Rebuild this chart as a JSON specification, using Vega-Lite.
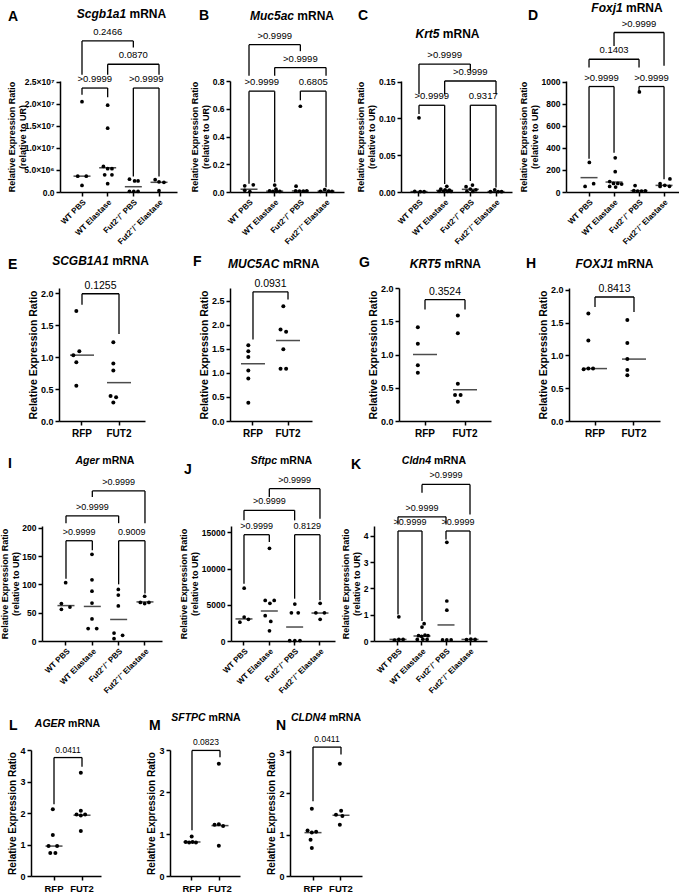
{
"$schema":"https://vega.github.io/schema/vega-lite/v6.json",
"padding":{"left":0,"top":1,"right":0,"bottom":0},
"spacing":0,
"config":{"font":"Liberation Sans","view":{"stroke":null},
"axis":{"grid":false,"domainColor":"black","domainWidth":1.5,"tickColor":"black","tickWidth":1.5,"tickSize":4,"labelColor":"black","labelFont":"Liberation Sans","labelFontWeight":"bold","titleColor":"black","titleFont":"Liberation Sans","titleFontWeight":"bold","labelOverlap":false,"labelPadding":2,"titlePadding":2},
"axisY":{"tickCount":20,"labelOverlap":false}},
"datasets":{
"pts":[
{"p":"A","g":"WT PBS","v":20500000,"s":0},{"p":"A","g":"WT PBS","v":3600000,"s":-1},{"p":"A","g":"WT PBS","v":3600000,"s":1},{"p":"A","g":"WT PBS","v":1500000,"s":0},
{"p":"A","g":"WT Elastase","v":19700000,"s":0},{"p":"A","g":"WT Elastase","v":14500000,"s":0},{"p":"A","g":"WT Elastase","v":5800000,"s":-1},{"p":"A","g":"WT Elastase","v":5300000,"s":0},{"p":"A","g":"WT Elastase","v":5300000,"s":1},{"p":"A","g":"WT Elastase","v":3900000,"s":-0.7},{"p":"A","g":"WT Elastase","v":3900000,"s":1},{"p":"A","g":"WT Elastase","v":1900000,"s":0},
{"p":"A","g":"Fut2⁻/⁻ PBS","v":2900000,"s":-0.9},{"p":"A","g":"Fut2⁻/⁻ PBS","v":2500000,"s":0.3},{"p":"A","g":"Fut2⁻/⁻ PBS","v":2500000,"s":1.1},{"p":"A","g":"Fut2⁻/⁻ PBS","v":150000,"s":-0.9},{"p":"A","g":"Fut2⁻/⁻ PBS","v":150000,"s":0.1},{"p":"A","g":"Fut2⁻/⁻ PBS","v":150000,"s":1.1},
{"p":"A","g":"Fut2⁻/⁻ Elastase","v":2800000,"s":-0.9},{"p":"A","g":"Fut2⁻/⁻ Elastase","v":2300000,"s":0},{"p":"A","g":"Fut2⁻/⁻ Elastase","v":2200000,"s":1.15},{"p":"A","g":"Fut2⁻/⁻ Elastase","v":300000,"s":0},
{"p":"B","g":"WT PBS","v":0.045,"s":-1},{"p":"B","g":"WT PBS","v":0.052,"s":1},{"p":"B","g":"WT PBS","v":0.012,"s":-1},{"p":"B","g":"WT PBS","v":0.003,"s":0.2},
{"p":"B","g":"WT Elastase","v":0.05,"s":0},{"p":"B","g":"WT Elastase","v":0.02,"s":0.3},{"p":"B","g":"WT Elastase","v":0.008,"s":-1.2},{"p":"B","g":"WT Elastase","v":0.005,"s":-0.4},{"p":"B","g":"WT Elastase","v":0.005,"s":0.4},{"p":"B","g":"WT Elastase","v":0.004,"s":1.2},
{"p":"B","g":"Fut2⁻/⁻ PBS","v":0.618,"s":0},{"p":"B","g":"Fut2⁻/⁻ PBS","v":0.042,"s":-1},{"p":"B","g":"Fut2⁻/⁻ PBS","v":0.008,"s":-1.1},{"p":"B","g":"Fut2⁻/⁻ PBS","v":0.006,"s":-0.2},{"p":"B","g":"Fut2⁻/⁻ PBS","v":0.007,"s":0.7},{"p":"B","g":"Fut2⁻/⁻ PBS","v":0.008,"s":1.5},
{"p":"B","g":"Fut2⁻/⁻ Elastase","v":0.018,"s":-0.3},{"p":"B","g":"Fut2⁻/⁻ Elastase","v":0.005,"s":-1.3},{"p":"B","g":"Fut2⁻/⁻ Elastase","v":0.006,"s":0.6},{"p":"B","g":"Fut2⁻/⁻ Elastase","v":0.005,"s":1.4},
{"p":"C","g":"WT PBS","v":0.101,"s":0},{"p":"C","g":"WT PBS","v":0.0008,"s":-1},{"p":"C","g":"WT PBS","v":0.0006,"s":0.3},{"p":"C","g":"WT PBS","v":0.0005,"s":1.2},
{"p":"C","g":"WT Elastase","v":0.0077,"s":0.5},{"p":"C","g":"WT Elastase","v":0.004,"s":-0.9},{"p":"C","g":"WT Elastase","v":0.003,"s":0.1},{"p":"C","g":"WT Elastase","v":0.0025,"s":1.1},{"p":"C","g":"WT Elastase","v":0.001,"s":-1.3},{"p":"C","g":"WT Elastase","v":0.001,"s":-0.3},{"p":"C","g":"WT Elastase","v":0.001,"s":0.7},{"p":"C","g":"WT Elastase","v":0.0008,"s":1.5},
{"p":"C","g":"Fut2⁻/⁻ PBS","v":0.0095,"s":0.5},{"p":"C","g":"Fut2⁻/⁻ PBS","v":0.0073,"s":-1},{"p":"C","g":"Fut2⁻/⁻ PBS","v":0.004,"s":0},{"p":"C","g":"Fut2⁻/⁻ PBS","v":0.003,"s":1.3},{"p":"C","g":"Fut2⁻/⁻ PBS","v":0.001,"s":-0.8},{"p":"C","g":"Fut2⁻/⁻ PBS","v":0.0008,"s":0.6},
{"p":"C","g":"Fut2⁻/⁻ Elastase","v":0.003,"s":-0.3},{"p":"C","g":"Fut2⁻/⁻ Elastase","v":0.0005,"s":-1.3},{"p":"C","g":"Fut2⁻/⁻ Elastase","v":0.0006,"s":0.5},{"p":"C","g":"Fut2⁻/⁻ Elastase","v":0.0005,"s":1.3},
{"p":"D","g":"WT PBS","v":268,"s":0},{"p":"D","g":"WT PBS","v":75,"s":1},{"p":"D","g":"WT PBS","v":50,"s":-1},
{"p":"D","g":"WT Elastase","v":310,"s":0.2},{"p":"D","g":"WT Elastase","v":184,"s":0.2},{"p":"D","g":"WT Elastase","v":95,"s":-1.1},{"p":"D","g":"WT Elastase","v":78,"s":-0.2},{"p":"D","g":"WT Elastase","v":78,"s":0.8},{"p":"D","g":"WT Elastase","v":72,"s":1.7},{"p":"D","g":"WT Elastase","v":50,"s":-1.1},{"p":"D","g":"WT Elastase","v":45,"s":0.3},
{"p":"D","g":"Fut2⁻/⁻ PBS","v":906,"s":0},{"p":"D","g":"Fut2⁻/⁻ PBS","v":58,"s":-1},{"p":"D","g":"Fut2⁻/⁻ PBS","v":12,"s":-1.3},{"p":"D","g":"Fut2⁻/⁻ PBS","v":8,"s":-0.4},{"p":"D","g":"Fut2⁻/⁻ PBS","v":8,"s":0.5},{"p":"D","g":"Fut2⁻/⁻ PBS","v":10,"s":1.4},
{"p":"D","g":"Fut2⁻/⁻ Elastase","v":118,"s":1.3},{"p":"D","g":"Fut2⁻/⁻ Elastase","v":75,"s":-1},{"p":"D","g":"Fut2⁻/⁻ Elastase","v":60,"s":0.1},{"p":"D","g":"Fut2⁻/⁻ Elastase","v":50,"s":-1},{"p":"D","g":"Fut2⁻/⁻ Elastase","v":52,"s":1.2},
{"p":"E","g":"RFP","v":1.72,"s":0},{"p":"E","g":"RFP","v":1.09,"s":0.7},{"p":"E","g":"RFP","v":1.03,"s":-0.7},{"p":"E","g":"RFP","v":0.92,"s":0},{"p":"E","g":"RFP","v":0.55,"s":0},
{"p":"E","g":"FUT2","v":1.23,"s":0},{"p":"E","g":"FUT2","v":0.9,"s":0},{"p":"E","g":"FUT2","v":0.79,"s":0},{"p":"E","g":"FUT2","v":0.39,"s":-0.65},{"p":"E","g":"FUT2","v":0.37,"s":0.65},{"p":"E","g":"FUT2","v":0.29,"s":0},
{"p":"F","g":"RFP","v":1.57,"s":0},{"p":"F","g":"RFP","v":1.45,"s":0},{"p":"F","g":"RFP","v":1.33,"s":0},{"p":"F","g":"RFP","v":1.05,"s":0},{"p":"F","g":"RFP","v":0.88,"s":0},{"p":"F","g":"RFP","v":0.38,"s":0},
{"p":"F","g":"FUT2","v":2.38,"s":0},{"p":"F","g":"FUT2","v":1.9,"s":-0.65},{"p":"F","g":"FUT2","v":1.85,"s":0.65},{"p":"F","g":"FUT2","v":1.49,"s":0},{"p":"F","g":"FUT2","v":1.085,"s":-0.65},{"p":"F","g":"FUT2","v":1.085,"s":0.65},
{"p":"G","g":"RFP","v":1.41,"s":0},{"p":"G","g":"RFP","v":1.16,"s":0},{"p":"G","g":"RFP","v":0.84,"s":0},{"p":"G","g":"RFP","v":0.725,"s":0},
{"p":"G","g":"FUT2","v":1.585,"s":0},{"p":"G","g":"FUT2","v":1.32,"s":0},{"p":"G","g":"FUT2","v":0.56,"s":0},{"p":"G","g":"FUT2","v":0.39,"s":-0.65},{"p":"G","g":"FUT2","v":0.39,"s":0.65},{"p":"G","g":"FUT2","v":0.29,"s":0},
{"p":"H","g":"RFP","v":1.64,"s":0},{"p":"H","g":"RFP","v":1.23,"s":0},{"p":"H","g":"RFP","v":0.79,"s":-1.1},{"p":"H","g":"RFP","v":0.8,"s":0},{"p":"H","g":"RFP","v":0.8,"s":1.1},
{"p":"H","g":"FUT2","v":1.54,"s":0},{"p":"H","g":"FUT2","v":1.19,"s":0},{"p":"H","g":"FUT2","v":0.945,"s":0},{"p":"H","g":"FUT2","v":0.78,"s":0},{"p":"H","g":"FUT2","v":0.7,"s":0},
{"p":"I","g":"WT PBS","v":103,"s":0},{"p":"I","g":"WT PBS","v":66,"s":-1},{"p":"I","g":"WT PBS","v":60,"s":1},{"p":"I","g":"WT PBS","v":56,"s":-1},
{"p":"I","g":"WT Elastase","v":153,"s":0},{"p":"I","g":"WT Elastase","v":108,"s":0},{"p":"I","g":"WT Elastase","v":88,"s":0},{"p":"I","g":"WT Elastase","v":67,"s":0},{"p":"I","g":"WT Elastase","v":39,"s":0},{"p":"I","g":"WT Elastase","v":22,"s":-0.9},{"p":"I","g":"WT Elastase","v":22,"s":1.1},
{"p":"I","g":"Fut2⁻/⁻ PBS","v":91,"s":0},{"p":"I","g":"Fut2⁻/⁻ PBS","v":81,"s":0},{"p":"I","g":"Fut2⁻/⁻ PBS","v":62,"s":0},{"p":"I","g":"Fut2⁻/⁻ PBS","v":14,"s":-1},{"p":"I","g":"Fut2⁻/⁻ PBS","v":10,"s":1},{"p":"I","g":"Fut2⁻/⁻ PBS","v":4,"s":-1},
{"p":"I","g":"Fut2⁻/⁻ Elastase","v":79,"s":0},{"p":"I","g":"Fut2⁻/⁻ Elastase","v":68,"s":-1},{"p":"I","g":"Fut2⁻/⁻ Elastase","v":66,"s":0},{"p":"I","g":"Fut2⁻/⁻ Elastase","v":68,"s":1},
{"p":"J","g":"WT PBS","v":7300,"s":0},{"p":"J","g":"WT PBS","v":3300,"s":0},{"p":"J","g":"WT PBS","v":3000,"s":1},{"p":"J","g":"WT PBS","v":2600,"s":-1},
{"p":"J","g":"WT Elastase","v":12800,"s":0},{"p":"J","g":"WT Elastase","v":5600,"s":-1},{"p":"J","g":"WT Elastase","v":5200,"s":0.1},{"p":"J","g":"WT Elastase","v":5600,"s":1.1},{"p":"J","g":"WT Elastase","v":3500,"s":-1},{"p":"J","g":"WT Elastase","v":2700,"s":0.3},{"p":"J","g":"WT Elastase","v":1400,"s":0},
{"p":"J","g":"Fut2⁻/⁻ PBS","v":5100,"s":0},{"p":"J","g":"Fut2⁻/⁻ PBS","v":3900,"s":-0.8},{"p":"J","g":"Fut2⁻/⁻ PBS","v":3900,"s":0.8},{"p":"J","g":"Fut2⁻/⁻ PBS","v":50,"s":-1.2},{"p":"J","g":"Fut2⁻/⁻ PBS","v":40,"s":0},{"p":"J","g":"Fut2⁻/⁻ PBS","v":60,"s":1.2},
{"p":"J","g":"Fut2⁻/⁻ Elastase","v":5200,"s":0},{"p":"J","g":"Fut2⁻/⁻ Elastase","v":3900,"s":-1},{"p":"J","g":"Fut2⁻/⁻ Elastase","v":3900,"s":1},{"p":"J","g":"Fut2⁻/⁻ Elastase","v":3000,"s":0},
{"p":"K","g":"WT PBS","v":0.92,"s":0},{"p":"K","g":"WT PBS","v":0.03,"s":-1},{"p":"K","g":"WT PBS","v":0.06,"s":0},{"p":"K","g":"WT PBS","v":0.06,"s":1},
{"p":"K","g":"WT Elastase","v":0.66,"s":0.3},{"p":"K","g":"WT Elastase","v":0.53,"s":-0.2},{"p":"K","g":"WT Elastase","v":0.2,"s":-1},{"p":"K","g":"WT Elastase","v":0.18,"s":-0.3},{"p":"K","g":"WT Elastase","v":0.22,"s":0.5},{"p":"K","g":"WT Elastase","v":0.2,"s":1.2},{"p":"K","g":"WT Elastase","v":0.06,"s":-1.3},{"p":"K","g":"WT Elastase","v":0.07,"s":0},{"p":"K","g":"WT Elastase","v":0.06,"s":1},
{"p":"K","g":"Fut2⁻/⁻ PBS","v":3.75,"s":0},{"p":"K","g":"Fut2⁻/⁻ PBS","v":1.52,"s":0},{"p":"K","g":"Fut2⁻/⁻ PBS","v":1.17,"s":0},{"p":"K","g":"Fut2⁻/⁻ PBS","v":0.04,"s":-1},{"p":"K","g":"Fut2⁻/⁻ PBS","v":0.04,"s":0},{"p":"K","g":"Fut2⁻/⁻ PBS","v":0.04,"s":1},
{"p":"K","g":"Fut2⁻/⁻ Elastase","v":0.05,"s":-1},{"p":"K","g":"Fut2⁻/⁻ Elastase","v":0.07,"s":0},{"p":"K","g":"Fut2⁻/⁻ Elastase","v":0.06,"s":1},
{"p":"L","g":"RFP","v":2.12,"s":0},{"p":"L","g":"RFP","v":1.3,"s":0},{"p":"L","g":"RFP","v":0.95,"s":-1},{"p":"L","g":"RFP","v":0.95,"s":1},{"p":"L","g":"RFP","v":0.73,"s":-0.6},{"p":"L","g":"RFP","v":0.73,"s":0.6},
{"p":"L","g":"FUT2","v":3.28,"s":0},{"p":"L","g":"FUT2","v":2.07,"s":0},{"p":"L","g":"FUT2","v":1.95,"s":-1},{"p":"L","g":"FUT2","v":1.92,"s":0},{"p":"L","g":"FUT2","v":1.95,"s":1},{"p":"L","g":"FUT2","v":1.43,"s":0},
{"p":"M","g":"RFP","v":0.94,"s":0.2},{"p":"M","g":"RFP","v":0.81,"s":-1.2},{"p":"M","g":"RFP","v":0.8,"s":-0.4},{"p":"M","g":"RFP","v":0.81,"s":0.4},{"p":"M","g":"RFP","v":0.8,"s":1.2},
{"p":"M","g":"FUT2","v":2.67,"s":0},{"p":"M","g":"FUT2","v":1.22,"s":-1},{"p":"M","g":"FUT2","v":1.23,"s":0},{"p":"M","g":"FUT2","v":1.19,"s":1},{"p":"M","g":"FUT2","v":0.72,"s":0},
{"p":"N","g":"RFP","v":1.63,"s":0},{"p":"N","g":"RFP","v":1.1,"s":-1},{"p":"N","g":"RFP","v":1.05,"s":0},{"p":"N","g":"RFP","v":1.07,"s":1},{"p":"N","g":"RFP","v":0.88,"s":-0.3},{"p":"N","g":"RFP","v":0.68,"s":0},
{"p":"N","g":"FUT2","v":2.72,"s":0},{"p":"N","g":"FUT2","v":1.58,"s":0.3},{"p":"N","g":"FUT2","v":1.48,"s":-0.9},{"p":"N","g":"FUT2","v":1.45,"s":0.6},{"p":"N","g":"FUT2","v":1.24,"s":0}
],
"med":[
{"p":"A","g":"WT PBS","v":3600000},{"p":"A","g":"WT Elastase","v":5500000},{"p":"A","g":"Fut2⁻/⁻ PBS","v":1200000},{"p":"A","g":"Fut2⁻/⁻ Elastase","v":2200000},
{"p":"B","g":"WT PBS","v":0.02},{"p":"B","g":"WT Elastase","v":0.006},{"p":"B","g":"Fut2⁻/⁻ PBS","v":0.008},{"p":"B","g":"Fut2⁻/⁻ Elastase","v":0.006},
{"p":"C","g":"WT PBS","v":0.0006},{"p":"C","g":"WT Elastase","v":0.002},{"p":"C","g":"Fut2⁻/⁻ PBS","v":0.0036},{"p":"C","g":"Fut2⁻/⁻ Elastase","v":0.0006},
{"p":"D","g":"WT PBS","v":130},{"p":"D","g":"WT Elastase","v":90},{"p":"D","g":"Fut2⁻/⁻ PBS","v":12},{"p":"D","g":"Fut2⁻/⁻ Elastase","v":60},
{"p":"E","g":"RFP","v":1.03},{"p":"E","g":"FUT2","v":0.6},
{"p":"F","g":"RFP","v":1.19},{"p":"F","g":"FUT2","v":1.67},
{"p":"G","g":"RFP","v":1.0},{"p":"G","g":"FUT2","v":0.47},
{"p":"H","g":"RFP","v":0.8},{"p":"H","g":"FUT2","v":0.945},
{"p":"I","g":"WT PBS","v":62.5},{"p":"I","g":"WT Elastase","v":61},{"p":"I","g":"Fut2⁻/⁻ PBS","v":38},{"p":"I","g":"Fut2⁻/⁻ Elastase","v":69},
{"p":"J","g":"WT PBS","v":3050},{"p":"J","g":"WT Elastase","v":4140},{"p":"J","g":"Fut2⁻/⁻ PBS","v":1930},{"p":"J","g":"Fut2⁻/⁻ Elastase","v":3860},
{"p":"K","g":"WT PBS","v":0.06},{"p":"K","g":"WT Elastase","v":0.19},{"p":"K","g":"Fut2⁻/⁻ PBS","v":0.61},{"p":"K","g":"Fut2⁻/⁻ Elastase","v":0.06},
{"p":"L","g":"RFP","v":0.95},{"p":"L","g":"FUT2","v":1.93},
{"p":"M","g":"RFP","v":0.81},{"p":"M","g":"FUT2","v":1.2},
{"p":"N","g":"RFP","v":1.05},{"p":"N","g":"FUT2","v":1.47}
],
"seg":[
{"p":"A","g":"WT PBS","g2":"Fut2⁻/⁻ PBS","v":34300000,"v2":34300000},{"p":"A","g":"WT PBS","g2":"WT PBS","v":26600000,"v2":34300000},{"p":"A","g":"Fut2⁻/⁻ PBS","g2":"Fut2⁻/⁻ PBS","v":32800000,"v2":34300000},
{"p":"A","g":"WT Elastase","g2":"Fut2⁻/⁻ Elastase","v":29000000,"v2":29000000},{"p":"A","g":"WT Elastase","g2":"WT Elastase","v":26600000,"v2":29000000},{"p":"A","g":"Fut2⁻/⁻ Elastase","g2":"Fut2⁻/⁻ Elastase","v":26600000,"v2":29000000},
{"p":"A","g":"WT PBS","g2":"WT Elastase","v":23600000,"v2":23600000},{"p":"A","g":"WT PBS","g2":"WT PBS","v":22100000,"v2":23600000},{"p":"A","g":"WT Elastase","g2":"WT Elastase","v":21500000,"v2":23600000},
{"p":"A","g":"Fut2⁻/⁻ PBS","g2":"Fut2⁻/⁻ Elastase","v":23600000,"v2":23600000},{"p":"A","g":"Fut2⁻/⁻ PBS","g2":"Fut2⁻/⁻ PBS","v":3500000,"v2":23600000},{"p":"A","g":"Fut2⁻/⁻ Elastase","g2":"Fut2⁻/⁻ Elastase","v":3500000,"v2":23600000},
{"p":"B","g":"WT PBS","g2":"Fut2⁻/⁻ PBS","v":1.062,"v2":1.062},{"p":"B","g":"WT PBS","g2":"WT PBS","v":0.838,"v2":1.062},{"p":"B","g":"Fut2⁻/⁻ PBS","g2":"Fut2⁻/⁻ PBS","v":1.015,"v2":1.062},
{"p":"B","g":"WT Elastase","g2":"Fut2⁻/⁻ Elastase","v":0.897,"v2":0.897},{"p":"B","g":"WT Elastase","g2":"WT Elastase","v":0.838,"v2":0.897},{"p":"B","g":"Fut2⁻/⁻ Elastase","g2":"Fut2⁻/⁻ Elastase","v":0.838,"v2":0.897},
{"p":"B","g":"WT PBS","g2":"WT Elastase","v":0.727,"v2":0.727},{"p":"B","g":"WT PBS","g2":"WT PBS","v":0.06,"v2":0.727},{"p":"B","g":"WT Elastase","g2":"WT Elastase","v":0.07,"v2":0.727},
{"p":"B","g":"Fut2⁻/⁻ PBS","g2":"Fut2⁻/⁻ Elastase","v":0.727,"v2":0.727},{"p":"B","g":"Fut2⁻/⁻ PBS","g2":"Fut2⁻/⁻ PBS","v":0.661,"v2":0.727},{"p":"B","g":"Fut2⁻/⁻ Elastase","g2":"Fut2⁻/⁻ Elastase","v":0.035,"v2":0.727},
{"p":"C","g":"WT PBS","g2":"Fut2⁻/⁻ PBS","v":0.174,"v2":0.174},{"p":"C","g":"WT PBS","g2":"WT PBS","v":0.133,"v2":0.174},{"p":"C","g":"Fut2⁻/⁻ PBS","g2":"Fut2⁻/⁻ PBS","v":0.165,"v2":0.174},
{"p":"C","g":"WT Elastase","g2":"Fut2⁻/⁻ Elastase","v":0.151,"v2":0.151},{"p":"C","g":"WT Elastase","g2":"WT Elastase","v":0.133,"v2":0.151},{"p":"C","g":"Fut2⁻/⁻ Elastase","g2":"Fut2⁻/⁻ Elastase","v":0.133,"v2":0.151},
{"p":"C","g":"WT PBS","g2":"WT Elastase","v":0.118,"v2":0.118},{"p":"C","g":"WT PBS","g2":"WT PBS","v":0.106,"v2":0.118},{"p":"C","g":"WT Elastase","g2":"WT Elastase","v":0.011,"v2":0.118},
{"p":"C","g":"Fut2⁻/⁻ PBS","g2":"Fut2⁻/⁻ Elastase","v":0.118,"v2":0.118},{"p":"C","g":"Fut2⁻/⁻ PBS","g2":"Fut2⁻/⁻ PBS","v":0.015,"v2":0.118},{"p":"C","g":"Fut2⁻/⁻ Elastase","g2":"Fut2⁻/⁻ Elastase","v":0.006,"v2":0.118},
{"p":"D","g":"WT Elastase","g2":"Fut2⁻/⁻ Elastase","v":1444,"v2":1444},{"p":"D","g":"WT Elastase","g2":"WT Elastase","v":1323,"v2":1444},{"p":"D","g":"Fut2⁻/⁻ Elastase","g2":"Fut2⁻/⁻ Elastase","v":1142,"v2":1444},
{"p":"D","g":"WT PBS","g2":"Fut2⁻/⁻ PBS","v":1202,"v2":1202},{"p":"D","g":"WT PBS","g2":"WT PBS","v":1127,"v2":1202},{"p":"D","g":"Fut2⁻/⁻ PBS","g2":"Fut2⁻/⁻ PBS","v":1127,"v2":1202},
{"p":"D","g":"WT PBS","g2":"WT Elastase","v":955,"v2":955},{"p":"D","g":"WT PBS","g2":"WT PBS","v":302,"v2":955},{"p":"D","g":"WT Elastase","g2":"WT Elastase","v":356,"v2":955},
{"p":"D","g":"Fut2⁻/⁻ PBS","g2":"Fut2⁻/⁻ Elastase","v":955,"v2":955},{"p":"D","g":"Fut2⁻/⁻ PBS","g2":"Fut2⁻/⁻ PBS","v":915,"v2":955},{"p":"D","g":"Fut2⁻/⁻ Elastase","g2":"Fut2⁻/⁻ Elastase","v":115,"v2":955},
{"p":"E","g":"RFP","g2":"FUT2","v":1.99,"v2":1.99},{"p":"E","g":"RFP","g2":"RFP","v":1.82,"v2":1.99},{"p":"E","g":"FUT2","g2":"FUT2","v":1.36,"v2":1.99},
{"p":"F","g":"RFP","g2":"FUT2","v":2.68,"v2":2.68},{"p":"F","g":"RFP","g2":"RFP","v":1.69,"v2":2.68},{"p":"F","g":"FUT2","g2":"FUT2","v":2.52,"v2":2.68},
{"p":"G","g":"RFP","g2":"FUT2","v":1.825,"v2":1.825},{"p":"G","g":"RFP","g2":"RFP","v":1.675,"v2":1.825},{"p":"G","g":"FUT2","g2":"FUT2","v":1.675,"v2":1.825},
{"p":"H","g":"RFP","g2":"FUT2","v":1.893,"v2":1.893},{"p":"H","g":"RFP","g2":"RFP","v":1.74,"v2":1.893},{"p":"H","g":"FUT2","g2":"FUT2","v":1.665,"v2":1.893},
{"p":"I","g":"WT Elastase","g2":"Fut2⁻/⁻ Elastase","v":265,"v2":265},{"p":"I","g":"WT Elastase","g2":"WT Elastase","v":254,"v2":265},{"p":"I","g":"Fut2⁻/⁻ Elastase","g2":"Fut2⁻/⁻ Elastase","v":208,"v2":265},
{"p":"I","g":"WT PBS","g2":"Fut2⁻/⁻ PBS","v":221,"v2":221},{"p":"I","g":"WT PBS","g2":"WT PBS","v":208,"v2":221},{"p":"I","g":"Fut2⁻/⁻ PBS","g2":"Fut2⁻/⁻ PBS","v":208,"v2":221},
{"p":"I","g":"WT PBS","g2":"WT Elastase","v":177,"v2":177},{"p":"I","g":"WT PBS","g2":"WT PBS","v":110,"v2":177},{"p":"I","g":"WT Elastase","g2":"WT Elastase","v":160,"v2":177},
{"p":"I","g":"Fut2⁻/⁻ PBS","g2":"Fut2⁻/⁻ Elastase","v":177,"v2":177},{"p":"I","g":"Fut2⁻/⁻ PBS","g2":"Fut2⁻/⁻ PBS","v":100,"v2":177},{"p":"I","g":"Fut2⁻/⁻ Elastase","g2":"Fut2⁻/⁻ Elastase","v":84,"v2":177},
{"p":"J","g":"WT Elastase","g2":"Fut2⁻/⁻ Elastase","v":21030,"v2":21030},{"p":"J","g":"WT Elastase","g2":"WT Elastase","v":19880,"v2":21030},{"p":"J","g":"Fut2⁻/⁻ Elastase","g2":"Fut2⁻/⁻ Elastase","v":16890,"v2":21030},
{"p":"J","g":"WT PBS","g2":"Fut2⁻/⁻ PBS","v":18040,"v2":18040},{"p":"J","g":"WT PBS","g2":"WT PBS","v":16660,"v2":18040},{"p":"J","g":"Fut2⁻/⁻ PBS","g2":"Fut2⁻/⁻ PBS","v":16660,"v2":18040},
{"p":"J","g":"WT PBS","g2":"WT Elastase","v":14680,"v2":14680},{"p":"J","g":"WT PBS","g2":"WT PBS","v":7915,"v2":14680},{"p":"J","g":"WT Elastase","g2":"WT Elastase","v":13668,"v2":14680},
{"p":"J","g":"Fut2⁻/⁻ PBS","g2":"Fut2⁻/⁻ Elastase","v":14680,"v2":14680},{"p":"J","g":"Fut2⁻/⁻ PBS","g2":"Fut2⁻/⁻ PBS","v":5844,"v2":14680},{"p":"J","g":"Fut2⁻/⁻ Elastase","g2":"Fut2⁻/⁻ Elastase","v":5614,"v2":14680},
{"p":"K","g":"WT Elastase","g2":"Fut2⁻/⁻ Elastase","v":5.95,"v2":5.95},{"p":"K","g":"WT Elastase","g2":"WT Elastase","v":5.63,"v2":5.95},{"p":"K","g":"Fut2⁻/⁻ Elastase","g2":"Fut2⁻/⁻ Elastase","v":4.81,"v2":5.95},
{"p":"K","g":"WT PBS","g2":"Fut2⁻/⁻ PBS","v":4.72,"v2":4.72},{"p":"K","g":"WT PBS","g2":"WT PBS","v":4.43,"v2":4.72},{"p":"K","g":"Fut2⁻/⁻ PBS","g2":"Fut2⁻/⁻ PBS","v":4.43,"v2":4.72},
{"p":"K","g":"WT PBS","g2":"WT Elastase","v":4.18,"v2":4.18},{"p":"K","g":"WT PBS","g2":"WT PBS","v":1.01,"v2":4.18},{"p":"K","g":"WT Elastase","g2":"WT Elastase","v":0.76,"v2":4.18},
{"p":"K","g":"Fut2⁻/⁻ PBS","g2":"Fut2⁻/⁻ Elastase","v":4.18,"v2":4.18},{"p":"K","g":"Fut2⁻/⁻ PBS","g2":"Fut2⁻/⁻ PBS","v":3.86,"v2":4.18},{"p":"K","g":"Fut2⁻/⁻ Elastase","g2":"Fut2⁻/⁻ Elastase","v":0.25,"v2":4.18},
{"p":"L","g":"RFP","g2":"FUT2","v":3.76,"v2":3.76},{"p":"L","g":"RFP","g2":"RFP","v":2.28,"v2":3.76},{"p":"L","g":"FUT2","g2":"FUT2","v":3.47,"v2":3.76},
{"p":"M","g":"RFP","g2":"FUT2","v":2.99,"v2":2.99},{"p":"M","g":"RFP","g2":"RFP","v":1.09,"v2":2.99},{"p":"M","g":"FUT2","g2":"FUT2","v":2.83,"v2":2.99},
{"p":"N","g":"RFP","g2":"FUT2","v":3.12,"v2":3.12},{"p":"N","g":"RFP","g2":"RFP","v":1.81,"v2":3.12},{"p":"N","g":"FUT2","g2":"FUT2","v":2.94,"v2":3.12}
],
"pv":[
{"p":"A","g":"WT Elastase","v":34300000,"t":"0.2466","sp":2},{"p":"A","g":"Fut2⁻/⁻ PBS","v":29000000,"t":"0.0870","sp":2},{"p":"A","g":"WT PBS","v":23600000,"t":">0.9999","sp":1},{"p":"A","g":"Fut2⁻/⁻ PBS","v":23600000,"t":">0.9999","sp":1},
{"p":"B","g":"WT Elastase","v":1.062,"t":">0.9999","sp":2},{"p":"B","g":"Fut2⁻/⁻ PBS","v":0.897,"t":">0.9999","sp":2},{"p":"B","g":"WT PBS","v":0.727,"t":">0.9999","sp":1},{"p":"B","g":"Fut2⁻/⁻ PBS","v":0.727,"t":"0.6805","sp":1},
{"p":"C","g":"WT Elastase","v":0.174,"t":">0.9999","sp":2},{"p":"C","g":"Fut2⁻/⁻ PBS","v":0.151,"t":">0.9999","sp":2},{"p":"C","g":"WT PBS","v":0.118,"t":">0.9999","sp":1},{"p":"C","g":"Fut2⁻/⁻ PBS","v":0.118,"t":"0.9317","sp":1},
{"p":"D","g":"Fut2⁻/⁻ PBS","v":1444,"t":">0.9999","sp":2},{"p":"D","g":"WT Elastase","v":1202,"t":"0.1403","sp":2},{"p":"D","g":"WT PBS","v":955,"t":">0.9999","sp":1},{"p":"D","g":"Fut2⁻/⁻ PBS","v":955,"t":">0.9999","sp":1},
{"p":"E","g":"RFP","v":1.99,"t":"0.1255","sp":1},{"p":"F","g":"RFP","v":2.68,"t":"0.0931","sp":1},{"p":"G","g":"RFP","v":1.825,"t":"0.3524","sp":1},{"p":"H","g":"RFP","v":1.893,"t":"0.8413","sp":1},
{"p":"I","g":"Fut2⁻/⁻ PBS","v":265,"t":">0.9999","sp":2},{"p":"I","g":"WT Elastase","v":221,"t":">0.9999","sp":2},{"p":"I","g":"WT PBS","v":177,"t":">0.9999","sp":1},{"p":"I","g":"Fut2⁻/⁻ PBS","v":177,"t":"0.9009","sp":1},
{"p":"J","g":"Fut2⁻/⁻ PBS","v":21030,"t":">0.9999","sp":2},{"p":"J","g":"WT Elastase","v":18040,"t":">0.9999","sp":2},{"p":"J","g":"WT PBS","v":14680,"t":">0.9999","sp":1},{"p":"J","g":"Fut2⁻/⁻ PBS","v":14680,"t":"0.8129","sp":1},
{"p":"K","g":"Fut2⁻/⁻ PBS","v":5.95,"t":">0.9999","sp":2},{"p":"K","g":"WT Elastase","v":4.72,"t":">0.9999","sp":2},{"p":"K","g":"WT PBS","v":4.18,"t":">0.9999","sp":1},{"p":"K","g":"Fut2⁻/⁻ PBS","v":4.18,"t":">0.9999","sp":1},
{"p":"L","g":"RFP","v":3.76,"t":"0.0411","sp":1},{"p":"M","g":"RFP","v":2.99,"t":"0.0823","sp":1},{"p":"N","g":"RFP","v":3.12,"t":"0.0411","sp":1}
],
"ttl":[
{"p":"A","g":"WT Elastase","v":40400000,"t":"Scgb1a1","m":"mRNA"},{"p":"B","g":"WT Elastase","v":1.268,"t":"Muc5ac","m":"mRNA"},{"p":"C","g":"WT Elastase","v":0.215,"t":"Krt5","m":"mRNA"},{"p":"D","g":"WT Elastase","v":1666,"t":"Foxj1","m":"mRNA"},
{"p":"E","g":"RFP","v":2.5,"t":"SCGB1A1","m":"mRNA"},{"p":"F","g":"RFP","v":3.26,"t":"MUC5AC","m":"mRNA"},{"p":"G","g":"RFP","v":2.36,"t":"KRT5","m":"mRNA"},{"p":"H","g":"RFP","v":2.4,"t":"FOXJ1","m":"mRNA"},
{"p":"I","g":"WT Elastase","v":317.7,"t":"Ager","m":"mRNA"},{"p":"J","g":"WT Elastase","v":24855,"t":"Sftpc","m":"mRNA"},{"p":"K","g":"WT Elastase","v":6.84,"t":"Cldn4","m":"mRNA"},
{"p":"L","g":"RFP","v":4.83,"t":"AGER","m":"mRNA"},{"p":"M","g":"RFP","v":3.76,"t":"SFTPC","m":"mRNA"},{"p":"N","g":"RFP","v":3.82,"t":"CLDN4","m":"mRNA"}
],
"let":[
{"p":"A","g":"WT PBS","v":39800000,"t":"A"},{"p":"B","g":"WT PBS","v":1.265,"t":"B"},{"p":"C","g":"WT PBS","v":0.2388,"t":"C"},{"p":"D","g":"WT PBS","v":1589,"t":"D"},
{"p":"E","g":"RFP","v":2.44,"t":"E"},{"p":"F","g":"RFP","v":3.29,"t":"F"},{"p":"G","g":"RFP","v":2.38,"t":"G"},{"p":"H","g":"RFP","v":2.4,"t":"H"},
{"p":"I","g":"WT PBS","v":313,"t":"I"},{"p":"J","g":"WT PBS","v":23612,"t":"J"},{"p":"K","g":"WT PBS","v":6.69,"t":"K"},
{"p":"L","g":"RFP","v":4.75,"t":"L"},{"p":"M","g":"RFP","v":3.57,"t":"M"},{"p":"N","g":"RFP","v":3.62,"t":"N"}
]
},
"vconcat":[
{"bounds":"flush","spacing":0,"hconcat":[
{"width":58,"height":174,"data":{"values":[]},"mark":"point"},
{"width":117,"height":111,"layer":[
{"data":{"name":"pts"},"transform":[{"filter":"datum.p=='A'"}],"mark":{"type":"point","filled":true,"opacity":1,"color":"black","size":14},"encoding":{"x":{"field":"g","type":"nominal","scale":{"domain":["WT PBS","WT Elastase","Fut2⁻/⁻ PBS","Fut2⁻/⁻ Elastase"],"paddingInner":0,"paddingOuter":0.279,"align":0.64},"axis":{"title":null,"labelAngle":-45,"labelFontSize":8}},"xOffset":{"field":"s","type":"quantitative","scale":{"domain":[-2,2],"nice":false,"zero":false}},"y":{"field":"v","type":"quantitative","scale":{"domain":[0,25200000],"nice":false},"axis":{"title":["Relative Expression Ratio","(relative to UR)"],"titleFontSize":9,"labelFontSize":8.5,"titlePadding":-4,"tickCount":20,"labelOverlap":false,"values":[0,5000000,10000000,15000000,20000000,25000000],"labelExpr":"datum.value == 0 ? '0.0' : (datum.value < 10000000 ? format(datum.value / 1000000, '.1f') + '×10⁶' : format(datum.value / 10000000, '.1f') + '×10⁷')"}}}},
{"data":{"name":"med"},"transform":[{"filter":"datum.p=='A'"}],"mark":{"type":"tick","orient":"horizontal","color":"black","thickness":1.5,"size":17},"encoding":{"x":{"field":"g","type":"nominal"},"y":{"field":"v","type":"quantitative"}}},
{"data":{"name":"seg"},"transform":[{"filter":"datum.p=='A'"}],"mark":{"type":"rule","color":"black","strokeWidth":1.3},"encoding":{"x":{"field":"g","type":"nominal"},"x2":{"field":"g2"},"y":{"field":"v","type":"quantitative"},"y2":{"field":"v2"}}},
{"data":{"name":"pv"},"transform":[{"filter":"datum.p=='A' && datum.sp==1"}],"mark":{"type":"text","fontSize":9.5,"baseline":"bottom","dy":-4,"color":"black"},"encoding":{"x":{"field":"g","type":"nominal","bandPosition":1},"y":{"field":"v","type":"quantitative"},"text":{"field":"t"}}},
{"data":{"name":"pv"},"transform":[{"filter":"datum.p=='A' && datum.sp==2"}],"mark":{"type":"text","fontSize":9.5,"baseline":"bottom","dy":-4,"color":"black"},"encoding":{"x":{"field":"g","type":"nominal","bandPosition":0.5},"y":{"field":"v","type":"quantitative"},"text":{"field":"t"}}},
{"data":{"name":"ttl"},"transform":[{"filter":"datum.p=='A'"}],"mark":{"type":"text","fontSize":12,"fontWeight":"bold","fontStyle":"italic","align":"right","baseline":"middle","dx":5.7,"color":"black"},"encoding":{"x":{"field":"g","type":"nominal","bandPosition":1},"y":{"field":"v","type":"quantitative"},"text":{"field":"t"}}},
{"data":{"name":"ttl"},"transform":[{"filter":"datum.p=='A'"}],"mark":{"type":"text","fontSize":12,"fontWeight":"bold","align":"left","baseline":"middle","dx":9,"color":"black"},"encoding":{"x":{"field":"g","type":"nominal","bandPosition":1},"y":{"field":"v","type":"quantitative"},"text":{"field":"m"}}},
{"data":{"name":"let"},"transform":[{"filter":"datum.p=='A'"}],"mark":{"type":"text","fontSize":14,"fontWeight":"bold","align":"left","baseline":"middle","dx":-61.2,"color":"black"},"encoding":{"x":{"field":"g","type":"nominal","bandPosition":0},"y":{"field":"v","type":"quantitative"},"text":{"field":"t"}}}
]},
{"width":53,"height":1,"data":{"values":[]},"mark":"point"},
{"width":114,"height":111,"layer":[
{"data":{"name":"pts"},"transform":[{"filter":"datum.p=='B'"}],"mark":{"type":"point","filled":true,"opacity":1,"color":"black","size":14},"encoding":{"x":{"field":"g","type":"nominal","scale":{"domain":["WT PBS","WT Elastase","Fut2⁻/⁻ PBS","Fut2⁻/⁻ Elastase"],"paddingInner":0,"paddingOuter":0.22,"align":0.546},"axis":{"title":null,"labelAngle":-45,"labelFontSize":8}},"xOffset":{"field":"s","type":"quantitative","scale":{"domain":[-2,2],"nice":false,"zero":false}},"y":{"field":"v","type":"quantitative","scale":{"domain":[0,0.8],"nice":false},"axis":{"title":["Relative Expression Ratio","(relative to UR)"],"titleFontSize":9,"labelFontSize":8.5,"tickCount":20,"labelOverlap":false,"values":[0,0.2,0.4,0.6,0.8],"format":".1f"}}}},
{"data":{"name":"med"},"transform":[{"filter":"datum.p=='B'"}],"mark":{"type":"tick","orient":"horizontal","color":"black","thickness":1.5,"size":17},"encoding":{"x":{"field":"g","type":"nominal"},"y":{"field":"v","type":"quantitative"}}},
{"data":{"name":"seg"},"transform":[{"filter":"datum.p=='B'"}],"mark":{"type":"rule","color":"black","strokeWidth":1.3},"encoding":{"x":{"field":"g","type":"nominal"},"x2":{"field":"g2"},"y":{"field":"v","type":"quantitative"},"y2":{"field":"v2"}}},
{"data":{"name":"pv"},"transform":[{"filter":"datum.p=='B' && datum.sp==1"}],"mark":{"type":"text","fontSize":9.5,"baseline":"bottom","dy":-4,"color":"black"},"encoding":{"x":{"field":"g","type":"nominal","bandPosition":1},"y":{"field":"v","type":"quantitative"},"text":{"field":"t"}}},
{"data":{"name":"pv"},"transform":[{"filter":"datum.p=='B' && datum.sp==2"}],"mark":{"type":"text","fontSize":9.5,"baseline":"bottom","dy":-4,"color":"black"},"encoding":{"x":{"field":"g","type":"nominal","bandPosition":0.5},"y":{"field":"v","type":"quantitative"},"text":{"field":"t"}}},
{"data":{"name":"ttl"},"transform":[{"filter":"datum.p=='B'"}],"mark":{"type":"text","fontSize":12,"fontWeight":"bold","fontStyle":"italic","align":"right","baseline":"middle","dx":6.5,"color":"black"},"encoding":{"x":{"field":"g","type":"nominal","bandPosition":1},"y":{"field":"v","type":"quantitative"},"text":{"field":"t"}}},
{"data":{"name":"ttl"},"transform":[{"filter":"datum.p=='B'"}],"mark":{"type":"text","fontSize":12,"fontWeight":"bold","align":"left","baseline":"middle","dx":9.8,"color":"black"},"encoding":{"x":{"field":"g","type":"nominal","bandPosition":1},"y":{"field":"v","type":"quantitative"},"text":{"field":"m"}}},
{"data":{"name":"let"},"transform":[{"filter":"datum.p=='B'"}],"mark":{"type":"text","fontSize":14,"fontWeight":"bold","align":"left","baseline":"middle","dx":-37.2,"color":"black"},"encoding":{"x":{"field":"g","type":"nominal","bandPosition":0},"y":{"field":"v","type":"quantitative"},"text":{"field":"t"}}}
]},
{"width":57,"height":1,"data":{"values":[]},"mark":"point"},
{"width":111,"height":111,"layer":[
{"data":{"name":"pts"},"transform":[{"filter":"datum.p=='C'"}],"mark":{"type":"point","filled":true,"opacity":1,"color":"black","size":14},"encoding":{"x":{"field":"g","type":"nominal","scale":{"domain":["WT PBS","WT Elastase","Fut2⁻/⁻ PBS","Fut2⁻/⁻ Elastase"],"paddingInner":0,"paddingOuter":0.162,"align":0.62},"axis":{"title":null,"labelAngle":-45,"labelFontSize":8}},"xOffset":{"field":"s","type":"quantitative","scale":{"domain":[-2,2],"nice":false,"zero":false}},"y":{"field":"v","type":"quantitative","scale":{"domain":[0,0.151],"nice":false},"axis":{"title":["Relative Expression Ratio","(relative to UR)"],"titleFontSize":9,"labelFontSize":8.5,"tickCount":20,"labelOverlap":false,"values":[0,0.05,0.1,0.15],"format":".2f"}}}},
{"data":{"name":"med"},"transform":[{"filter":"datum.p=='C'"}],"mark":{"type":"tick","orient":"horizontal","color":"black","thickness":1.5,"size":17},"encoding":{"x":{"field":"g","type":"nominal"},"y":{"field":"v","type":"quantitative"}}},
{"data":{"name":"seg"},"transform":[{"filter":"datum.p=='C'"}],"mark":{"type":"rule","color":"black","strokeWidth":1.3},"encoding":{"x":{"field":"g","type":"nominal"},"x2":{"field":"g2"},"y":{"field":"v","type":"quantitative"},"y2":{"field":"v2"}}},
{"data":{"name":"pv"},"transform":[{"filter":"datum.p=='C' && datum.sp==1"}],"mark":{"type":"text","fontSize":9.5,"baseline":"bottom","dy":-4,"color":"black"},"encoding":{"x":{"field":"g","type":"nominal","bandPosition":1},"y":{"field":"v","type":"quantitative"},"text":{"field":"t"}}},
{"data":{"name":"pv"},"transform":[{"filter":"datum.p=='C' && datum.sp==2"}],"mark":{"type":"text","fontSize":9.5,"baseline":"bottom","dy":-4,"color":"black"},"encoding":{"x":{"field":"g","type":"nominal","bandPosition":0.5},"y":{"field":"v","type":"quantitative"},"text":{"field":"t"}}},
{"data":{"name":"ttl"},"transform":[{"filter":"datum.p=='C'"}],"mark":{"type":"text","fontSize":12,"fontWeight":"bold","fontStyle":"italic","align":"right","baseline":"middle","dx":-18,"color":"black"},"encoding":{"x":{"field":"g","type":"nominal","bandPosition":1},"y":{"field":"v","type":"quantitative"},"text":{"field":"t"}}},
{"data":{"name":"ttl"},"transform":[{"filter":"datum.p=='C'"}],"mark":{"type":"text","fontSize":12,"fontWeight":"bold","align":"left","baseline":"middle","dx":-14.7,"color":"black"},"encoding":{"x":{"field":"g","type":"nominal","bandPosition":1},"y":{"field":"v","type":"quantitative"},"text":{"field":"m"}}},
{"data":{"name":"let"},"transform":[{"filter":"datum.p=='C'"}],"mark":{"type":"text","fontSize":14,"fontWeight":"bold","align":"left","baseline":"middle","dx":-48.2,"color":"black"},"encoding":{"x":{"field":"g","type":"nominal","bandPosition":0},"y":{"field":"v","type":"quantitative"},"text":{"field":"t"}}}
]},
{"width":54,"height":1,"data":{"values":[]},"mark":"point"},
{"width":113,"height":111,"layer":[
{"data":{"name":"pts"},"transform":[{"filter":"datum.p=='D'"}],"mark":{"type":"point","filled":true,"opacity":1,"color":"black","size":14},"encoding":{"x":{"field":"g","type":"nominal","scale":{"domain":["WT PBS","WT Elastase","Fut2⁻/⁻ PBS","Fut2⁻/⁻ Elastase"],"paddingInner":0,"paddingOuter":0.26,"align":0.81},"axis":{"title":null,"labelAngle":-45,"labelFontSize":8}},"xOffset":{"field":"s","type":"quantitative","scale":{"domain":[-2,2],"nice":false,"zero":false}},"y":{"field":"v","type":"quantitative","scale":{"domain":[0,1005],"nice":false},"axis":{"title":["Relative Expression Ratio","(relative to UR)"],"titleFontSize":9,"labelFontSize":8.5,"tickCount":20,"labelOverlap":false,"values":[0,200,400,600,800,1000],"format":"d"}}}},
{"data":{"name":"med"},"transform":[{"filter":"datum.p=='D'"}],"mark":{"type":"tick","orient":"horizontal","color":"black","thickness":1.5,"size":17},"encoding":{"x":{"field":"g","type":"nominal"},"y":{"field":"v","type":"quantitative"}}},
{"data":{"name":"seg"},"transform":[{"filter":"datum.p=='D'"}],"mark":{"type":"rule","color":"black","strokeWidth":1.3},"encoding":{"x":{"field":"g","type":"nominal"},"x2":{"field":"g2"},"y":{"field":"v","type":"quantitative"},"y2":{"field":"v2"}}},
{"data":{"name":"pv"},"transform":[{"filter":"datum.p=='D' && datum.sp==1"}],"mark":{"type":"text","fontSize":9.5,"baseline":"bottom","dy":-4,"color":"black"},"encoding":{"x":{"field":"g","type":"nominal","bandPosition":1},"y":{"field":"v","type":"quantitative"},"text":{"field":"t"}}},
{"data":{"name":"pv"},"transform":[{"filter":"datum.p=='D' && datum.sp==2"}],"mark":{"type":"text","fontSize":9.5,"baseline":"bottom","dy":-4,"color":"black"},"encoding":{"x":{"field":"g","type":"nominal","bandPosition":0.5},"y":{"field":"v","type":"quantitative"},"text":{"field":"t"}}},
{"data":{"name":"ttl"},"transform":[{"filter":"datum.p=='D'"}],"mark":{"type":"text","fontSize":12,"fontWeight":"bold","fontStyle":"italic","align":"right","baseline":"middle","dx":-3.85,"color":"black"},"encoding":{"x":{"field":"g","type":"nominal","bandPosition":1},"y":{"field":"v","type":"quantitative"},"text":{"field":"t"}}},
{"data":{"name":"ttl"},"transform":[{"filter":"datum.p=='D'"}],"mark":{"type":"text","fontSize":12,"fontWeight":"bold","align":"left","baseline":"middle","dx":-0.5,"color":"black"},"encoding":{"x":{"field":"g","type":"nominal","bandPosition":1},"y":{"field":"v","type":"quantitative"},"text":{"field":"m"}}},
{"data":{"name":"let"},"transform":[{"filter":"datum.p=='D'"}],"mark":{"type":"text","fontSize":14,"fontWeight":"bold","align":"left","baseline":"middle","dx":-48.5,"color":"black"},"encoding":{"x":{"field":"g","type":"nominal","bandPosition":0},"y":{"field":"v","type":"quantitative"},"text":{"field":"t"}}}
]}
]},
{"bounds":"flush","spacing":0,"hconcat":[
{"width":57,"height":168,"data":{"values":[]},"mark":"point"},
{"width":86,"height":133,"layer":[
{"data":{"name":"pts"},"transform":[{"filter":"datum.p=='E'"}],"mark":{"type":"point","filled":true,"opacity":1,"color":"black","size":16},"encoding":{"x":{"field":"g","type":"nominal","scale":{"domain":["RFP","FUT2"],"paddingInner":0,"paddingOuter":0.162,"align":0.375},"axis":{"title":null,"labelAngle":0,"labelFontSize":10,"labelPadding":3}},"xOffset":{"field":"s","type":"quantitative","scale":{"domain":[-3,3],"nice":false,"zero":false}},"y":{"field":"v","type":"quantitative","scale":{"domain":[0,2.08],"nice":false},"axis":{"title":"Relative Expression Ratio","titleFontSize":10.5,"labelFontSize":9,"tickCount":20,"labelOverlap":false,"values":[0,0.5,1,1.5,2],"format":".1f"}}}},
{"data":{"name":"med"},"transform":[{"filter":"datum.p=='E'"}],"mark":{"type":"tick","orient":"horizontal","color":"black","thickness":1.5,"size":24},"encoding":{"x":{"field":"g","type":"nominal"},"y":{"field":"v","type":"quantitative"}}},
{"data":{"name":"seg"},"transform":[{"filter":"datum.p=='E'"}],"mark":{"type":"rule","color":"black","strokeWidth":1.3},"encoding":{"x":{"field":"g","type":"nominal"},"x2":{"field":"g2"},"y":{"field":"v","type":"quantitative"},"y2":{"field":"v2"}}},
{"data":{"name":"pv"},"transform":[{"filter":"datum.p=='E'"}],"mark":{"type":"text","fontSize":10.5,"baseline":"bottom","dy":-3,"color":"black"},"encoding":{"x":{"field":"g","type":"nominal","bandPosition":1},"y":{"field":"v","type":"quantitative"},"text":{"field":"t"}}},
{"data":{"name":"ttl"},"transform":[{"filter":"datum.p=='E'"}],"mark":{"type":"text","fontSize":12,"fontWeight":"bold","fontStyle":"italic","align":"right","baseline":"middle","dx":8.35,"color":"black"},"encoding":{"x":{"field":"g","type":"nominal","bandPosition":1},"y":{"field":"v","type":"quantitative"},"text":{"field":"t"}}},
{"data":{"name":"ttl"},"transform":[{"filter":"datum.p=='E'"}],"mark":{"type":"text","fontSize":12,"fontWeight":"bold","align":"left","baseline":"middle","dx":11.65,"color":"black"},"encoding":{"x":{"field":"g","type":"nominal","bandPosition":1},"y":{"field":"v","type":"quantitative"},"text":{"field":"m"}}},
{"data":{"name":"let"},"transform":[{"filter":"datum.p=='E'"}],"mark":{"type":"text","fontSize":14,"fontWeight":"bold","align":"left","baseline":"middle","dx":-55.5,"color":"black"},"encoding":{"x":{"field":"g","type":"nominal","bandPosition":0},"y":{"field":"v","type":"quantitative"},"text":{"field":"t"}}}
]},
{"width":85,"height":1,"data":{"values":[]},"mark":"point"},
{"width":82,"height":133,"layer":[
{"data":{"name":"pts"},"transform":[{"filter":"datum.p=='F'"}],"mark":{"type":"point","filled":true,"opacity":1,"color":"black","size":16},"encoding":{"x":{"field":"g","type":"nominal","scale":{"domain":["RFP","FUT2"],"paddingInner":0,"paddingOuter":0.171,"align":0.458},"axis":{"title":null,"labelAngle":0,"labelFontSize":10,"labelPadding":3}},"xOffset":{"field":"s","type":"quantitative","scale":{"domain":[-3,3],"nice":false,"zero":false}},"y":{"field":"v","type":"quantitative","scale":{"domain":[0,2.76],"nice":false},"axis":{"title":"Relative Expression Ratio","titleFontSize":10.5,"labelFontSize":9,"tickCount":20,"labelOverlap":false,"values":[0,0.5,1,1.5,2,2.5],"format":".1f"}}}},
{"data":{"name":"med"},"transform":[{"filter":"datum.p=='F'"}],"mark":{"type":"tick","orient":"horizontal","color":"black","thickness":1.5,"size":24},"encoding":{"x":{"field":"g","type":"nominal"},"y":{"field":"v","type":"quantitative"}}},
{"data":{"name":"seg"},"transform":[{"filter":"datum.p=='F'"}],"mark":{"type":"rule","color":"black","strokeWidth":1.3},"encoding":{"x":{"field":"g","type":"nominal"},"x2":{"field":"g2"},"y":{"field":"v","type":"quantitative"},"y2":{"field":"v2"}}},
{"data":{"name":"pv"},"transform":[{"filter":"datum.p=='F'"}],"mark":{"type":"text","fontSize":10.5,"baseline":"bottom","dy":-3,"color":"black"},"encoding":{"x":{"field":"g","type":"nominal","bandPosition":1},"y":{"field":"v","type":"quantitative"},"text":{"field":"t"}}},
{"data":{"name":"ttl"},"transform":[{"filter":"datum.p=='F'"}],"mark":{"type":"text","fontSize":12,"fontWeight":"bold","fontStyle":"italic","align":"right","baseline":"middle","dx":8.85,"color":"black"},"encoding":{"x":{"field":"g","type":"nominal","bandPosition":1},"y":{"field":"v","type":"quantitative"},"text":{"field":"t"}}},
{"data":{"name":"ttl"},"transform":[{"filter":"datum.p=='F'"}],"mark":{"type":"text","fontSize":12,"fontWeight":"bold","align":"left","baseline":"middle","dx":12.15,"color":"black"},"encoding":{"x":{"field":"g","type":"nominal","bandPosition":1},"y":{"field":"v","type":"quantitative"},"text":{"field":"m"}}},
{"data":{"name":"let"},"transform":[{"filter":"datum.p=='F'"}],"mark":{"type":"text","fontSize":14,"fontWeight":"bold","align":"left","baseline":"middle","dx":-42.5,"color":"black"},"encoding":{"x":{"field":"g","type":"nominal","bandPosition":0},"y":{"field":"v","type":"quantitative"},"text":{"field":"t"}}}
]},
{"width":87,"height":1,"data":{"values":[]},"mark":"point"},
{"width":92,"height":133,"layer":[
{"data":{"name":"pts"},"transform":[{"filter":"datum.p=='G'"}],"mark":{"type":"point","filled":true,"opacity":1,"color":"black","size":16},"encoding":{"x":{"field":"g","type":"nominal","scale":{"domain":["RFP","FUT2"],"paddingInner":0,"paddingOuter":0.15,"align":0.5},"axis":{"title":null,"labelAngle":0,"labelFontSize":10,"labelPadding":3}},"xOffset":{"field":"s","type":"quantitative","scale":{"domain":[-3,3],"nice":false,"zero":false}},"y":{"field":"v","type":"quantitative","scale":{"domain":[0,2],"nice":false},"axis":{"title":"Relative Expression Ratio","titleFontSize":10.5,"labelFontSize":9,"tickCount":20,"labelOverlap":false,"values":[0,0.5,1,1.5,2],"format":".1f"}}}},
{"data":{"name":"med"},"transform":[{"filter":"datum.p=='G'"}],"mark":{"type":"tick","orient":"horizontal","color":"black","thickness":1.5,"size":24},"encoding":{"x":{"field":"g","type":"nominal"},"y":{"field":"v","type":"quantitative"}}},
{"data":{"name":"seg"},"transform":[{"filter":"datum.p=='G'"}],"mark":{"type":"rule","color":"black","strokeWidth":1.3},"encoding":{"x":{"field":"g","type":"nominal"},"x2":{"field":"g2"},"y":{"field":"v","type":"quantitative"},"y2":{"field":"v2"}}},
{"data":{"name":"pv"},"transform":[{"filter":"datum.p=='G'"}],"mark":{"type":"text","fontSize":10.5,"baseline":"bottom","dy":-3,"color":"black"},"encoding":{"x":{"field":"g","type":"nominal","bandPosition":1},"y":{"field":"v","type":"quantitative"},"text":{"field":"t"}}},
{"data":{"name":"ttl"},"transform":[{"filter":"datum.p=='G'"}],"mark":{"type":"text","fontSize":12,"fontWeight":"bold","fontStyle":"italic","align":"right","baseline":"middle","dx":-4.05,"color":"black"},"encoding":{"x":{"field":"g","type":"nominal","bandPosition":1},"y":{"field":"v","type":"quantitative"},"text":{"field":"t"}}},
{"data":{"name":"ttl"},"transform":[{"filter":"datum.p=='G'"}],"mark":{"type":"text","fontSize":12,"fontWeight":"bold","align":"left","baseline":"middle","dx":-0.7,"color":"black"},"encoding":{"x":{"field":"g","type":"nominal","bandPosition":1},"y":{"field":"v","type":"quantitative"},"text":{"field":"m"}}},
{"data":{"name":"let"},"transform":[{"filter":"datum.p=='G'"}],"mark":{"type":"text","fontSize":14,"fontWeight":"bold","align":"left","baseline":"middle","dx":-46,"color":"black"},"encoding":{"x":{"field":"g","type":"nominal","bandPosition":0},"y":{"field":"v","type":"quantitative"},"text":{"field":"t"}}}
]},
{"width":78,"height":1,"data":{"values":[]},"mark":"point"},
{"width":91,"height":133,"layer":[
{"data":{"name":"pts"},"transform":[{"filter":"datum.p=='H'"}],"mark":{"type":"point","filled":true,"opacity":1,"color":"black","size":16},"encoding":{"x":{"field":"g","type":"nominal","scale":{"domain":["RFP","FUT2"],"paddingInner":0,"paddingOuter":0.167,"align":0.5},"axis":{"title":null,"labelAngle":0,"labelFontSize":10,"labelPadding":3}},"xOffset":{"field":"s","type":"quantitative","scale":{"domain":[-3,3],"nice":false,"zero":false}},"y":{"field":"v","type":"quantitative","scale":{"domain":[0,2.03],"nice":false},"axis":{"title":"Relative Expression Ratio","titleFontSize":10.5,"labelFontSize":9,"tickCount":20,"labelOverlap":false,"values":[0,0.5,1,1.5,2],"format":".1f"}}}},
{"data":{"name":"med"},"transform":[{"filter":"datum.p=='H'"}],"mark":{"type":"tick","orient":"horizontal","color":"black","thickness":1.5,"size":24},"encoding":{"x":{"field":"g","type":"nominal"},"y":{"field":"v","type":"quantitative"}}},
{"data":{"name":"seg"},"transform":[{"filter":"datum.p=='H'"}],"mark":{"type":"rule","color":"black","strokeWidth":1.3},"encoding":{"x":{"field":"g","type":"nominal"},"x2":{"field":"g2"},"y":{"field":"v","type":"quantitative"},"y2":{"field":"v2"}}},
{"data":{"name":"pv"},"transform":[{"filter":"datum.p=='H'"}],"mark":{"type":"text","fontSize":10.5,"baseline":"bottom","dy":-3,"color":"black"},"encoding":{"x":{"field":"g","type":"nominal","bandPosition":1},"y":{"field":"v","type":"quantitative"},"text":{"field":"t"}}},
{"data":{"name":"ttl"},"transform":[{"filter":"datum.p=='H'"}],"mark":{"type":"text","fontSize":12,"fontWeight":"bold","fontStyle":"italic","align":"right","baseline":"middle","dx":-1,"color":"black"},"encoding":{"x":{"field":"g","type":"nominal","bandPosition":1},"y":{"field":"v","type":"quantitative"},"text":{"field":"t"}}},
{"data":{"name":"ttl"},"transform":[{"filter":"datum.p=='H'"}],"mark":{"type":"text","fontSize":12,"fontWeight":"bold","align":"left","baseline":"middle","dx":2.3,"color":"black"},"encoding":{"x":{"field":"g","type":"nominal","bandPosition":1},"y":{"field":"v","type":"quantitative"},"text":{"field":"m"}}},
{"data":{"name":"let"},"transform":[{"filter":"datum.p=='H'"}],"mark":{"type":"text","fontSize":14,"fontWeight":"bold","align":"left","baseline":"middle","dx":-49.5,"color":"black"},"encoding":{"x":{"field":"g","type":"nominal","bandPosition":0},"y":{"field":"v","type":"quantitative"},"text":{"field":"t"}}}
]}
]},
{"bounds":"flush","spacing":0,"hconcat":[
{"width":40,"height":187,"data":{"values":[]},"mark":"point"},
{"width":120,"height":115,"layer":[
{"data":{"name":"pts"},"transform":[{"filter":"datum.p=='I'"}],"mark":{"type":"point","filled":true,"opacity":1,"color":"black","size":14},"encoding":{"x":{"field":"g","type":"nominal","scale":{"domain":["WT PBS","WT Elastase","Fut2⁻/⁻ PBS","Fut2⁻/⁻ Elastase"],"paddingInner":0,"paddingOuter":0.279,"align":0.737},"axis":{"title":null,"labelAngle":-45,"labelFontSize":8}},"xOffset":{"field":"s","type":"quantitative","scale":{"domain":[-2,2],"nice":false,"zero":false}},"y":{"field":"v","type":"quantitative","scale":{"domain":[0,203],"nice":false},"axis":{"title":["Relative Expression Ratio","(relative to UR)"],"titleFontSize":9,"labelFontSize":8.5,"titlePadding":1,"tickCount":20,"labelOverlap":false,"values":[0,50,100,150,200],"format":"d"}}}},
{"data":{"name":"med"},"transform":[{"filter":"datum.p=='I'"}],"mark":{"type":"tick","orient":"horizontal","color":"black","thickness":1.5,"size":17},"encoding":{"x":{"field":"g","type":"nominal"},"y":{"field":"v","type":"quantitative"}}},
{"data":{"name":"seg"},"transform":[{"filter":"datum.p=='I'"}],"mark":{"type":"rule","color":"black","strokeWidth":1.3},"encoding":{"x":{"field":"g","type":"nominal"},"x2":{"field":"g2"},"y":{"field":"v","type":"quantitative"},"y2":{"field":"v2"}}},
{"data":{"name":"pv"},"transform":[{"filter":"datum.p=='I' && datum.sp==1"}],"mark":{"type":"text","fontSize":9,"baseline":"bottom","dy":-4,"color":"black"},"encoding":{"x":{"field":"g","type":"nominal","bandPosition":1},"y":{"field":"v","type":"quantitative"},"text":{"field":"t"}}},
{"data":{"name":"pv"},"transform":[{"filter":"datum.p=='I' && datum.sp==2"}],"mark":{"type":"text","fontSize":9,"baseline":"bottom","dy":-4,"color":"black"},"encoding":{"x":{"field":"g","type":"nominal","bandPosition":0.5},"y":{"field":"v","type":"quantitative"},"text":{"field":"t"}}},
{"data":{"name":"ttl"},"transform":[{"filter":"datum.p=='I'"}],"mark":{"type":"text","fontSize":10.5,"fontWeight":"bold","fontStyle":"italic","align":"right","baseline":"middle","dx":-6.05,"color":"black"},"encoding":{"x":{"field":"g","type":"nominal","bandPosition":1},"y":{"field":"v","type":"quantitative"},"text":{"field":"t"}}},
{"data":{"name":"ttl"},"transform":[{"filter":"datum.p=='I'"}],"mark":{"type":"text","fontSize":10.5,"fontWeight":"bold","align":"left","baseline":"middle","dx":-3.15,"color":"black"},"encoding":{"x":{"field":"g","type":"nominal","bandPosition":1},"y":{"field":"v","type":"quantitative"},"text":{"field":"m"}}},
{"data":{"name":"let"},"transform":[{"filter":"datum.p=='I'"}],"mark":{"type":"text","fontSize":14,"fontWeight":"bold","align":"left","baseline":"middle","dx":-44.8,"color":"black"},"encoding":{"x":{"field":"g","type":"nominal","bandPosition":0},"y":{"field":"v","type":"quantitative"},"text":{"field":"t"}}}
]},
{"width":69,"height":1,"data":{"values":[]},"mark":"point"},
{"width":104,"height":115,"layer":[
{"data":{"name":"pts"},"transform":[{"filter":"datum.p=='J'"}],"mark":{"type":"point","filled":true,"opacity":1,"color":"black","size":14},"encoding":{"x":{"field":"g","type":"nominal","scale":{"domain":["WT PBS","WT Elastase","Fut2⁻/⁻ PBS","Fut2⁻/⁻ Elastase"],"paddingInner":0,"paddingOuter":0.053,"align":0.12},"axis":{"title":null,"labelAngle":-45,"labelFontSize":8}},"xOffset":{"field":"s","type":"quantitative","scale":{"domain":[-2,2],"nice":false,"zero":false}},"y":{"field":"v","type":"quantitative","scale":{"domain":[0,15880],"nice":false},"axis":{"title":["Relative Expression Ratio","(relative to UR)"],"titleFontSize":9,"labelFontSize":8.5,"tickCount":20,"labelOverlap":false,"values":[0,5000,10000,15000],"format":"d"}}}},
{"data":{"name":"med"},"transform":[{"filter":"datum.p=='J'"}],"mark":{"type":"tick","orient":"horizontal","color":"black","thickness":1.5,"size":17},"encoding":{"x":{"field":"g","type":"nominal"},"y":{"field":"v","type":"quantitative"}}},
{"data":{"name":"seg"},"transform":[{"filter":"datum.p=='J'"}],"mark":{"type":"rule","color":"black","strokeWidth":1.3},"encoding":{"x":{"field":"g","type":"nominal"},"x2":{"field":"g2"},"y":{"field":"v","type":"quantitative"},"y2":{"field":"v2"}}},
{"data":{"name":"pv"},"transform":[{"filter":"datum.p=='J' && datum.sp==1"}],"mark":{"type":"text","fontSize":9,"baseline":"bottom","dy":-4,"color":"black"},"encoding":{"x":{"field":"g","type":"nominal","bandPosition":1},"y":{"field":"v","type":"quantitative"},"text":{"field":"t"}}},
{"data":{"name":"pv"},"transform":[{"filter":"datum.p=='J' && datum.sp==2"}],"mark":{"type":"text","fontSize":9,"baseline":"bottom","dy":-4,"color":"black"},"encoding":{"x":{"field":"g","type":"nominal","bandPosition":0.5},"y":{"field":"v","type":"quantitative"},"text":{"field":"t"}}},
{"data":{"name":"ttl"},"transform":[{"filter":"datum.p=='J'"}],"mark":{"type":"text","fontSize":10.5,"fontWeight":"bold","fontStyle":"italic","align":"right","baseline":"middle","dx":-4.9,"color":"black"},"encoding":{"x":{"field":"g","type":"nominal","bandPosition":1},"y":{"field":"v","type":"quantitative"},"text":{"field":"t"}}},
{"data":{"name":"ttl"},"transform":[{"filter":"datum.p=='J'"}],"mark":{"type":"text","fontSize":10.5,"fontWeight":"bold","align":"left","baseline":"middle","dx":-2,"color":"black"},"encoding":{"x":{"field":"g","type":"nominal","bandPosition":1},"y":{"field":"v","type":"quantitative"},"text":{"field":"m"}}},
{"data":{"name":"let"},"transform":[{"filter":"datum.p=='J'"}],"mark":{"type":"text","fontSize":14,"fontWeight":"bold","align":"left","baseline":"middle","dx":-47.3,"color":"black"},"encoding":{"x":{"field":"g","type":"nominal","bandPosition":0},"y":{"field":"v","type":"quantitative"},"text":{"field":"t"}}}
]},
{"width":39,"height":1,"data":{"values":[]},"mark":"point"},
{"width":113,"height":115,"layer":[
{"data":{"name":"pts"},"transform":[{"filter":"datum.p=='K'"}],"mark":{"type":"point","filled":true,"opacity":1,"color":"black","size":14},"encoding":{"x":{"field":"g","type":"nominal","scale":{"domain":["WT PBS","WT Elastase","Fut2⁻/⁻ PBS","Fut2⁻/⁻ Elastase"],"paddingInner":0,"paddingOuter":0.354,"align":0.706},"axis":{"title":null,"labelAngle":-45,"labelFontSize":8}},"xOffset":{"field":"s","type":"quantitative","scale":{"domain":[-2,2],"nice":false,"zero":false}},"y":{"field":"v","type":"quantitative","scale":{"domain":[0,4.37],"nice":false},"axis":{"title":["Relative Expression Ratio","(relative to UR)"],"titleFontSize":9,"labelFontSize":8.5,"tickCount":20,"labelOverlap":false,"values":[0,1,2,3,4],"format":"d"}}}},
{"data":{"name":"med"},"transform":[{"filter":"datum.p=='K'"}],"mark":{"type":"tick","orient":"horizontal","color":"black","thickness":1.5,"size":17},"encoding":{"x":{"field":"g","type":"nominal"},"y":{"field":"v","type":"quantitative"}}},
{"data":{"name":"seg"},"transform":[{"filter":"datum.p=='K'"}],"mark":{"type":"rule","color":"black","strokeWidth":1.3},"encoding":{"x":{"field":"g","type":"nominal"},"x2":{"field":"g2"},"y":{"field":"v","type":"quantitative"},"y2":{"field":"v2"}}},
{"data":{"name":"pv"},"transform":[{"filter":"datum.p=='K' && datum.sp==1"}],"mark":{"type":"text","fontSize":9,"baseline":"bottom","dy":-4,"color":"black"},"encoding":{"x":{"field":"g","type":"nominal","bandPosition":1},"y":{"field":"v","type":"quantitative"},"text":{"field":"t"}}},
{"data":{"name":"pv"},"transform":[{"filter":"datum.p=='K' && datum.sp==2"}],"mark":{"type":"text","fontSize":9,"baseline":"bottom","dy":-4,"color":"black"},"encoding":{"x":{"field":"g","type":"nominal","bandPosition":0.5},"y":{"field":"v","type":"quantitative"},"text":{"field":"t"}}},
{"data":{"name":"ttl"},"transform":[{"filter":"datum.p=='K'"}],"mark":{"type":"text","fontSize":10.5,"fontWeight":"bold","fontStyle":"italic","align":"right","baseline":"middle","dx":-3,"color":"black"},"encoding":{"x":{"field":"g","type":"nominal","bandPosition":1},"y":{"field":"v","type":"quantitative"},"text":{"field":"t"}}},
{"data":{"name":"ttl"},"transform":[{"filter":"datum.p=='K'"}],"mark":{"type":"text","fontSize":10.5,"fontWeight":"bold","align":"left","baseline":"middle","dx":-0.1,"color":"black"},"encoding":{"x":{"field":"g","type":"nominal","bandPosition":1},"y":{"field":"v","type":"quantitative"},"text":{"field":"m"}}},
{"data":{"name":"let"},"transform":[{"filter":"datum.p=='K'"}],"mark":{"type":"text","fontSize":14,"fontWeight":"bold","align":"left","baseline":"middle","dx":-35,"color":"black"},"encoding":{"x":{"field":"g","type":"nominal","bandPosition":0},"y":{"field":"v","type":"quantitative"},"text":{"field":"t"}}}
]}
]},
{"bounds":"flush","spacing":0,"hconcat":[
{"width":29,"height":1,"data":{"values":[]},"mark":"point"},
{"width":70,"height":126,"layer":[
{"data":{"name":"pts"},"transform":[{"filter":"datum.p=='L'"}],"mark":{"type":"point","filled":true,"opacity":1,"color":"black","size":16},"encoding":{"x":{"field":"g","type":"nominal","scale":{"domain":["RFP","FUT2"],"paddingInner":0,"paddingOuter":0.25,"align":0.643},"axis":{"title":null,"labelAngle":0,"labelFontSize":9.5,"labelPadding":3}},"xOffset":{"field":"s","type":"quantitative","scale":{"domain":[-2.25,2.25],"nice":false,"zero":false}},"y":{"field":"v","type":"quantitative","scale":{"domain":[0,4],"nice":false},"axis":{"title":"Relative Expression Ratio","titleFontSize":10,"labelFontSize":9,"tickCount":20,"labelOverlap":false,"values":[0,1,2,3,4],"format":"d"}}}},
{"data":{"name":"med"},"transform":[{"filter":"datum.p=='L'"}],"mark":{"type":"tick","orient":"horizontal","color":"black","thickness":1.5,"size":17},"encoding":{"x":{"field":"g","type":"nominal"},"y":{"field":"v","type":"quantitative"}}},
{"data":{"name":"seg"},"transform":[{"filter":"datum.p=='L'"}],"mark":{"type":"rule","color":"black","strokeWidth":1.3},"encoding":{"x":{"field":"g","type":"nominal"},"x2":{"field":"g2"},"y":{"field":"v","type":"quantitative"},"y2":{"field":"v2"}}},
{"data":{"name":"pv"},"transform":[{"filter":"datum.p=='L'"}],"mark":{"type":"text","fontSize":8.5,"baseline":"bottom","dy":-3,"color":"black"},"encoding":{"x":{"field":"g","type":"nominal","bandPosition":1},"y":{"field":"v","type":"quantitative"},"text":{"field":"t"}}},
{"data":{"name":"ttl"},"transform":[{"filter":"datum.p=='L'"}],"mark":{"type":"text","fontSize":10.5,"fontWeight":"bold","fontStyle":"italic","align":"right","baseline":"middle","dx":-2.8,"color":"black"},"encoding":{"x":{"field":"g","type":"nominal","bandPosition":1},"y":{"field":"v","type":"quantitative"},"text":{"field":"t"}}},
{"data":{"name":"ttl"},"transform":[{"filter":"datum.p=='L'"}],"mark":{"type":"text","fontSize":10.5,"fontWeight":"bold","align":"left","baseline":"middle","dx":0.1,"color":"black"},"encoding":{"x":{"field":"g","type":"nominal","bandPosition":1},"y":{"field":"v","type":"quantitative"},"text":{"field":"m"}}},
{"data":{"name":"let"},"transform":[{"filter":"datum.p=='L'"}],"mark":{"type":"text","fontSize":14,"fontWeight":"bold","align":"left","baseline":"middle","dx":-31,"color":"black"},"encoding":{"x":{"field":"g","type":"nominal","bandPosition":0},"y":{"field":"v","type":"quantitative"},"text":{"field":"t"}}}
]},
{"width":69,"height":1,"data":{"values":[]},"mark":"point"},
{"width":70,"height":126,"layer":[
{"data":{"name":"pts"},"transform":[{"filter":"datum.p=='M'"}],"mark":{"type":"point","filled":true,"opacity":1,"color":"black","size":16},"encoding":{"x":{"field":"g","type":"nominal","scale":{"domain":["RFP","FUT2"],"paddingInner":0,"paddingOuter":0.25,"align":0.571},"axis":{"title":null,"labelAngle":0,"labelFontSize":9.5,"labelPadding":3}},"xOffset":{"field":"s","type":"quantitative","scale":{"domain":[-2.25,2.25],"nice":false,"zero":false}},"y":{"field":"v","type":"quantitative","scale":{"domain":[0,3],"nice":false},"axis":{"title":"Relative Expression Ratio","titleFontSize":10,"labelFontSize":9,"tickCount":20,"labelOverlap":false,"values":[0,1,2,3],"format":"d"}}}},
{"data":{"name":"med"},"transform":[{"filter":"datum.p=='M'"}],"mark":{"type":"tick","orient":"horizontal","color":"black","thickness":1.5,"size":17},"encoding":{"x":{"field":"g","type":"nominal"},"y":{"field":"v","type":"quantitative"}}},
{"data":{"name":"seg"},"transform":[{"filter":"datum.p=='M'"}],"mark":{"type":"rule","color":"black","strokeWidth":1.3},"encoding":{"x":{"field":"g","type":"nominal"},"x2":{"field":"g2"},"y":{"field":"v","type":"quantitative"},"y2":{"field":"v2"}}},
{"data":{"name":"pv"},"transform":[{"filter":"datum.p=='M'"}],"mark":{"type":"text","fontSize":8.5,"baseline":"bottom","dy":-3,"color":"black"},"encoding":{"x":{"field":"g","type":"nominal","bandPosition":1},"y":{"field":"v","type":"quantitative"},"text":{"field":"t"}}},
{"data":{"name":"ttl"},"transform":[{"filter":"datum.p=='M'"}],"mark":{"type":"text","fontSize":10.5,"fontWeight":"bold","fontStyle":"italic","align":"right","baseline":"middle","dx":-0.3,"color":"black"},"encoding":{"x":{"field":"g","type":"nominal","bandPosition":1},"y":{"field":"v","type":"quantitative"},"text":{"field":"t"}}},
{"data":{"name":"ttl"},"transform":[{"filter":"datum.p=='M'"}],"mark":{"type":"text","fontSize":10.5,"fontWeight":"bold","align":"left","baseline":"middle","dx":2.6,"color":"black"},"encoding":{"x":{"field":"g","type":"nominal","bandPosition":1},"y":{"field":"v","type":"quantitative"},"text":{"field":"m"}}},
{"data":{"name":"let"},"transform":[{"filter":"datum.p=='M'"}],"mark":{"type":"text","fontSize":14,"fontWeight":"bold","align":"left","baseline":"middle","dx":-29,"color":"black"},"encoding":{"x":{"field":"g","type":"nominal","bandPosition":0},"y":{"field":"v","type":"quantitative"},"text":{"field":"t"}}}
]},
{"width":50,"height":1,"data":{"values":[]},"mark":"point"},
{"width":72,"height":126,"layer":[
{"data":{"name":"pts"},"transform":[{"filter":"datum.p=='N'"}],"mark":{"type":"point","filled":true,"opacity":1,"color":"black","size":16},"encoding":{"x":{"field":"g","type":"nominal","scale":{"domain":["RFP","FUT2"],"paddingInner":0,"paddingOuter":0.286,"align":0.5625},"axis":{"title":null,"labelAngle":0,"labelFontSize":9.5,"labelPadding":3}},"xOffset":{"field":"s","type":"quantitative","scale":{"domain":[-2.25,2.25],"nice":false,"zero":false}},"y":{"field":"v","type":"quantitative","scale":{"domain":[0,3.05],"nice":false},"axis":{"title":"Relative Expression Ratio","titleFontSize":10,"labelFontSize":9,"tickCount":20,"labelOverlap":false,"values":[0,1,2,3],"format":"d"}}}},
{"data":{"name":"med"},"transform":[{"filter":"datum.p=='N'"}],"mark":{"type":"tick","orient":"horizontal","color":"black","thickness":1.5,"size":17},"encoding":{"x":{"field":"g","type":"nominal"},"y":{"field":"v","type":"quantitative"}}},
{"data":{"name":"seg"},"transform":[{"filter":"datum.p=='N'"}],"mark":{"type":"rule","color":"black","strokeWidth":1.3},"encoding":{"x":{"field":"g","type":"nominal"},"x2":{"field":"g2"},"y":{"field":"v","type":"quantitative"},"y2":{"field":"v2"}}},
{"data":{"name":"pv"},"transform":[{"filter":"datum.p=='N'"}],"mark":{"type":"text","fontSize":8.5,"baseline":"bottom","dy":-3,"color":"black"},"encoding":{"x":{"field":"g","type":"nominal","bandPosition":1},"y":{"field":"v","type":"quantitative"},"text":{"field":"t"}}},
{"data":{"name":"ttl"},"transform":[{"filter":"datum.p=='N'"}],"mark":{"type":"text","fontSize":10.5,"fontWeight":"bold","fontStyle":"italic","align":"right","baseline":"middle","dx":-1,"color":"black"},"encoding":{"x":{"field":"g","type":"nominal","bandPosition":1},"y":{"field":"v","type":"quantitative"},"text":{"field":"t"}}},
{"data":{"name":"ttl"},"transform":[{"filter":"datum.p=='N'"}],"mark":{"type":"text","fontSize":10.5,"fontWeight":"bold","align":"left","baseline":"middle","dx":1.9,"color":"black"},"encoding":{"x":{"field":"g","type":"nominal","bandPosition":1},"y":{"field":"v","type":"quantitative"},"text":{"field":"m"}}},
{"data":{"name":"let"},"transform":[{"filter":"datum.p=='N'"}],"mark":{"type":"text","fontSize":14,"fontWeight":"bold","align":"left","baseline":"middle","dx":-23,"color":"black"},"encoding":{"x":{"field":"g","type":"nominal","bandPosition":0},"y":{"field":"v","type":"quantitative"},"text":{"field":"t"}}}
]}
]}
]
}
